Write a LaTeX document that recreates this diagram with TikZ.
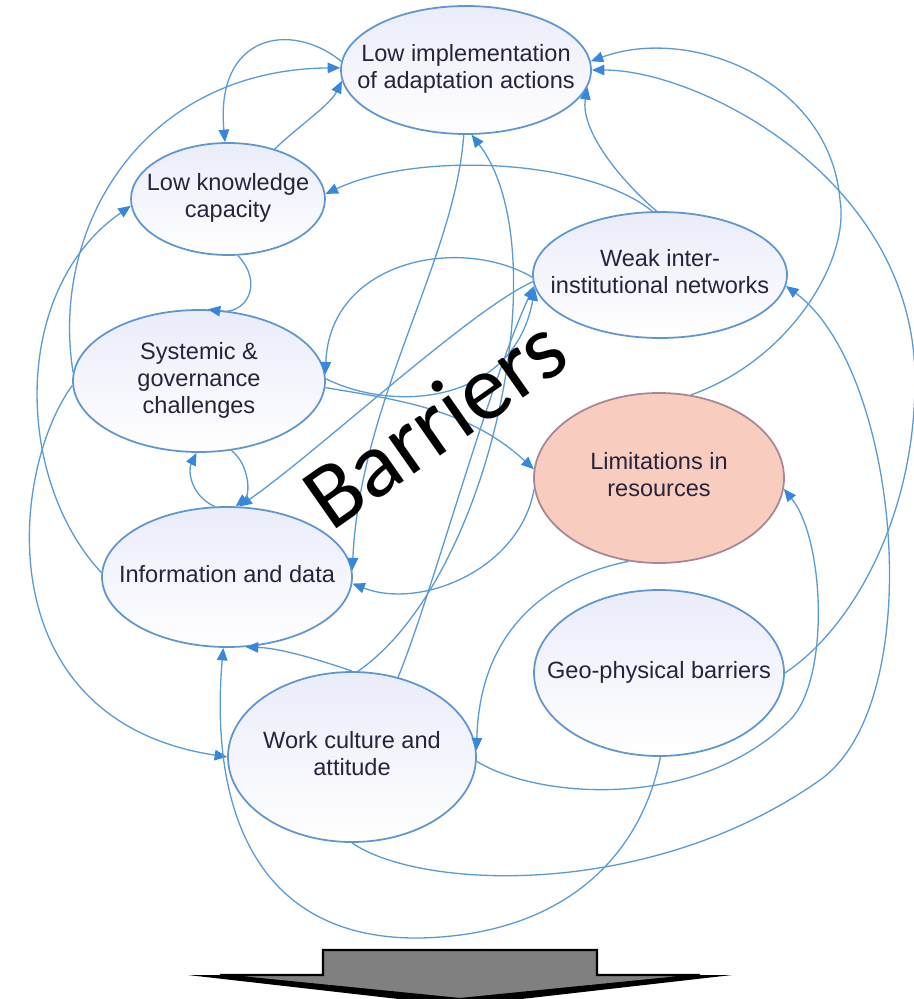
\documentclass[tikz,border=0pt]{standalone}
\usepackage{fontspec}
\setmainfont{Liberation Sans}
\newfontfamily\barfont{Carlito}
\usetikzlibrary{shapes.geometric,arrows.meta}
\definecolor{linkblue}{RGB}{91,155,213}
\definecolor{tipblue}{RGB}{55,135,220}
\definecolor{ellline}{RGB}{95,150,210}
\definecolor{ellfill}{RGB}{234,236,250}
\definecolor{limfill}{RGB}{248,205,192}
\definecolor{limline}{RGB}{165,135,150}
\definecolor{ntext}{RGB}{40,35,60}
\definecolor{arrowgray}{RGB}{128,128,128}
\newcommand{\etext}[1]{\makebox[0pt]{\begin{tabular}{@{}c@{}}#1\end{tabular}}}

\begin{document}
\begin{tikzpicture}[x=0.2mm,y=-0.2mm,
	barrier/.style={ellipse,draw=ellline,line width=1pt,inner sep=0pt,text=ntext,font=\fontsize{13.4}{15.4}\selectfont},
	cool/.style={top color=ellfill,bottom color=white},
	link/.style={draw=linkblue,line width=0.75pt,-{Triangle[length=2.5mm,width=2.1mm,color=tipblue]}}]
\useasboundingbox (0,0) rectangle (914,999);
\foreach \nm/\x/\y/\rx/\ry/\txt in {
	impl/466/70/125/64/{Low implementation\\of adaptation actions},
	know/228/199/97/56/{Low knowledge\\capacity},
	sys/199/381/126/71/{Systemic \&\\governance\\challenges},
	info/227/577/125/70/{Information and data},
	weak/660/275/127/63/{Weak inter-\\institutional networks},
	geo/659/673/125/83/{Geo-physical barriers},
	work/352/757/124/85/{Work culture and\\attitude}}
	\node[barrier,cool,minimum width=\rx*0.4mm,minimum height=\ry*0.4mm] (\nm) at (\x,\y) {\etext{\txt}};
\node[barrier,draw=limline,fill=limfill,minimum width=50mm,minimum height=34mm] (lim) at (659,478) {\etext{Limitations in\\resources}};

\draw[link] (know.47) .. controls (300,125) and (330,105) .. (impl.185);
\draw[link] (impl.176) .. controls (290,20) and (215,35) .. (know.93);
\draw[link] (sys.176) .. controls (50,230) and (140,70) .. (impl.179);
\draw[link] (sys.182) .. controls (10,470) and (-15,720) .. (work.180);
\draw[link] (info.178) .. controls (15,480) and (10,290) .. (know.184);
\draw[link] (know.280) .. controls (265,285) and (245,315) .. (sys.83);
\draw[link] (weak.97) .. controls (590,160) and (420,150) .. (know.3);
\draw[link] (weak.93) .. controls (620,180) and (580,130) .. (impl.352);
\draw[link] (lim.69) .. controls (790,360) and (850,260) .. (840,200) .. controls (830,80) and (690,25) .. (impl.4);
\draw[link] (geo.0) .. controls (850,630) and (915,520) .. (915,380) .. controls (915,180) and (700,70) .. (impl.0);
\draw[link] (work.270) .. controls (420,890) and (650,900) .. (820,780) .. controls (930,702) and (900,370) .. (weak.355);
\draw[link] (weak.181) .. controls (460,235) and (330,260) .. (sys.3);
\draw[link] (weak.183) .. controls (470,310) and (320,450) .. (info.80);
\draw[link] (impl.268) .. controls (455,260) and (360,400) .. (info.3);
\draw[link] (work.86) .. controls (490,580) and (560,250) .. (impl.275);
\draw[link] (work.60) .. controls (430,600) and (490,380) .. (weak.185);
\draw[link] (sys.1) .. controls (400,415) and (515,400) .. (weak.186);
\draw[link] (sys.357) .. controls (400,400) and (470,410) .. (lim.176);
\draw[link] (lim.185) .. controls (520,570) and (420,610) .. (info.357);
\draw[link] (info.100) .. controls (190,495) and (188,470) .. (sys.268);
\draw[link] (sys.295) .. controls (250,465) and (250,495) .. (info.83);
\draw[link] (work.90) .. controls (320,660) and (280,648) .. (info.285);
\draw[link] (geo.271) .. controls (640,860) and (560,935) .. (420,938) .. controls (250,940) and (210,800) .. (info.267);
\draw[link] (lim.250) .. controls (560,575) and (480,620) .. (work.3);
\draw[link] (work.358) .. controls (540,800) and (700,810) .. (790,720) .. controls (830,680) and (825,540) .. (lim.355);

\node[font=\barfont\fontsize{53}{55}\selectfont,rotate=35] (bartitle) at (434,422) {Barriers};

\fill[black] (188,975) -- (732,975) -- (460,1006) -- cycle;
\filldraw[fill=arrowgray,draw=black,line width=1.2pt] (323,950) -- (597,950) -- (597,975) -- (700,975) -- (460,999) -- (220,975) -- (323,975) -- cycle;
\end{tikzpicture}
\end{document}
